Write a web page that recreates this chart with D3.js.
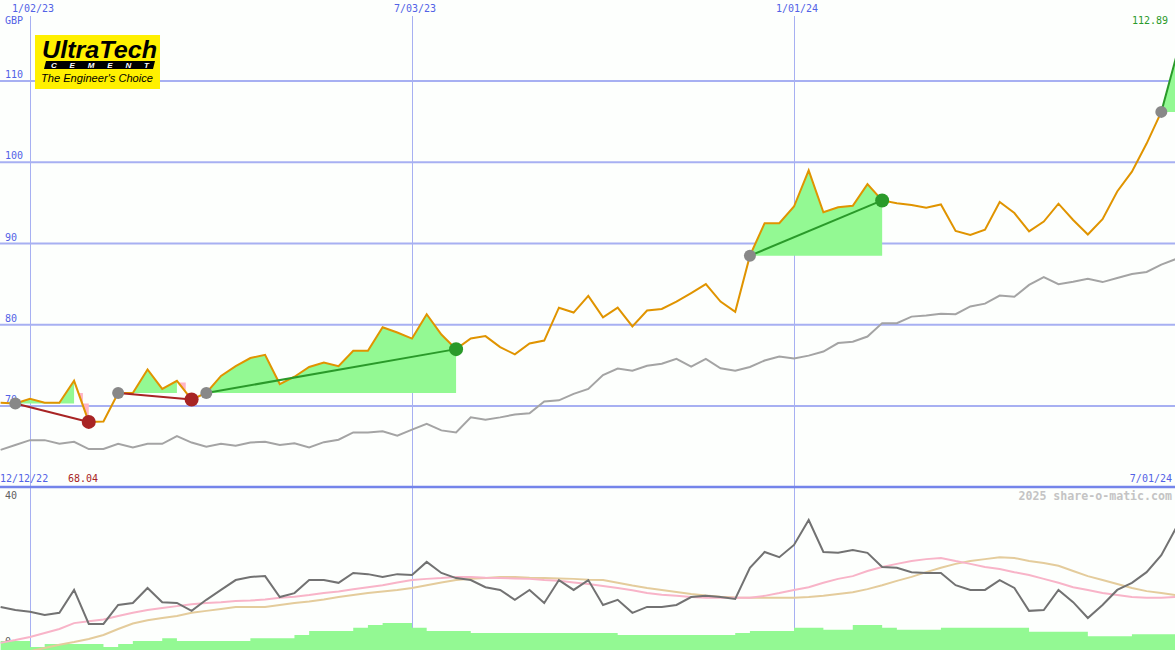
<!DOCTYPE html>
<html>
<head>
<meta charset="utf-8">
<script src="https://cdn.jsdelivr.net/npm/d3@7"></script>
<style>
	body { margin: 0; background: #fdfffd; }
	svg { display: block; }
	text { font-family: "DejaVu Sans Mono", monospace; font-size: 10px; }
</style>
</head>
<body>
<div id="chart"></div>
<script>
// weekly closes, first week 12/19/22
var firstWeek = new Date(2022, 11, 19);
var price = [ 70.4, 70.3, 70.9, 70.4, 70.4, 73.1, 68.04, 68.1, 71.6, 71.6,
	74.5, 72.1, 73.1, 70.8, 71.6, 73.7, 74.9, 75.9, 76.3, 72.7,
	73.6, 74.8, 75.35, 74.9, 76.8, 76.8, 79.7, 79.05, 78.3, 81.3,
	78.8, 77.0, 78.3, 78.6, 77.25, 76.35, 77.7, 78.05, 82.1, 81.5,
	83.55, 80.9, 82.1, 79.8, 81.75, 81.95, 82.85, 83.9, 85.0, 82.85,
	81.6, 88.5, 92.5, 92.5, 94.55, 99.0, 93.85, 94.45, 94.65, 97.3,
	95.3, 94.95, 94.75, 94.4, 94.8, 91.55, 91.05, 91.7, 95.1, 93.75,
	91.5, 92.7, 94.9, 92.9, 91.1, 93.0, 96.4, 98.85, 102.3, 106.2, 112.89 ];
// comparison index, plotted on the price scale
var index = [ 64.6, 65.2, 65.8, 65.8, 65.35, 65.6, 64.7, 64.7, 65.35, 64.9,
	65.35, 65.35, 66.3, 65.5, 65.0, 65.35, 65.1, 65.5, 65.6, 65.2,
	65.4, 64.9, 65.55, 65.85, 66.75, 66.75, 66.9, 66.35, 67.1, 67.8,
	67.0, 66.75, 68.6, 68.3, 68.6, 68.95, 69.1, 70.55, 70.7, 71.5,
	72.1, 73.8, 74.6, 74.35, 74.95, 75.2, 75.8, 74.85, 75.8, 74.65,
	74.35, 74.8, 75.6, 76.1, 75.85, 76.2, 76.7, 77.75, 77.9, 78.55,
	80.2, 80.2, 81.0, 81.15, 81.35, 81.3, 82.25, 82.6, 83.6, 83.45,
	84.9, 85.85, 85.0, 85.3, 85.65, 85.25, 85.75, 86.25, 86.5, 87.4, 88.1 ];
// lower panel
var volat = [ 10.4, 9.6, 9.2, 8.35, 8.9, 14.7, 6.1, 6.1, 10.9, 11.4,
	15.2, 11.6, 11.4, 9.4, 12.2, 14.7, 17.2, 18.0, 18.2, 12.9,
	13.9, 17.2, 17.2, 16.5, 19.0, 18.7, 18.0, 18.7, 18.5, 21.8,
	19.0, 17.7, 17.2, 15.4, 14.7, 12.2, 14.7, 11.4, 17.2, 14.7,
	17.2, 10.9, 12.2, 8.9, 10.4, 10.4, 10.9, 12.9, 13.2, 12.9,
	12.4, 20.3, 24.3, 23.0, 26.1, 32.4, 24.3, 24.1, 24.8, 24.1,
	20.5, 20.3, 19.2, 19.0, 19.0, 15.9, 14.7, 14.7, 17.2, 15.2,
	9.4, 9.6, 14.7, 11.6, 7.6, 10.9, 14.7, 16.5, 19.2, 23.5, 30.4 ];
var avgShort = [ 1.3, 2.0, 2.8, 3.8, 4.8, 6.3, 6.8, 7.2, 8.1, 8.9,
	9.6, 10.1, 10.6, 11.1, 11.4, 11.6, 11.9, 12.0, 12.3, 12.7,
	13.0, 13.4, 13.9, 14.3, 14.9, 15.4, 15.9, 16.6, 17.2, 17.5,
	17.7, 18.0, 18.0, 17.8, 17.7, 17.6, 17.5, 17.2, 17.0, 16.6,
	16.2, 15.7, 15.2, 14.6, 13.9, 13.5, 13.2, 12.9, 12.7, 12.7,
	12.7, 12.7, 13.2, 13.9, 14.7, 15.4, 16.5, 17.5, 18.2, 19.5,
	20.5, 21.3, 22.0, 22.5, 22.8, 22.0, 21.3, 20.5, 20.0, 19.2,
	18.5, 17.5, 16.5, 15.4, 14.7, 13.9, 13.4, 12.9, 12.7, 12.7, 12.9 ];
var avgLong = [ null, null, -0.8, 0, 0.8, 1.5, 2.3, 3.3, 4.8, 6.2,
	7.0, 7.6, 8.1, 8.9, 9.4, 9.9, 10.4, 10.4, 10.4, 10.9,
	11.4, 11.8, 12.3, 12.9, 13.4, 13.9, 14.3, 14.7, 15.2, 15.9,
	16.6, 17.2, 17.5, 17.7, 18.0, 18.0, 17.8, 17.7, 17.6, 17.5,
	17.3, 17.2, 16.5, 15.8, 15.2, 14.7, 14.2, 13.7, 13.3, 13.0,
	12.8, 12.7, 12.7, 12.7, 12.7, 12.9, 13.2, 13.7, 14.1, 14.9,
	15.9, 17.0, 18.0, 19.2, 20.3, 21.3, 22.0, 22.5, 23.0, 22.8,
	22.0, 21.5, 20.8, 19.5, 18.2, 17.2, 16.2, 15.2, 14.4, 13.9, 13.4 ];
var volume = [ 1.8, 1.8, 0.25, 1.0, 1.0, 1.0, 1.0, 0.25, 1.0, 1.8,
	1.8, 2.5, 1.8, 1.8, 1.8, 1.8, 1.8, 2.5, 2.5, 2.5,
	3.3, 4.3, 4.3, 4.3, 5.1, 5.8, 6.3, 6.3, 5.1, 4.3,
	4.3, 4.3, 3.8, 3.8, 3.8, 3.8, 3.8, 3.8, 3.8, 3.8,
	3.8, 3.8, 3.3, 3.3, 3.3, 3.3, 3.3, 3.3, 3.3, 3.3,
	3.8, 4.3, 4.3, 4.3, 5.1, 5.1, 4.6, 4.6, 5.8, 5.8,
	5.1, 4.6, 4.6, 4.6, 5.1, 5.1, 5.1, 5.1, 5.1, 5.1,
	4.1, 4.1, 4.1, 4.1, 3.0, 3.0, 3.0, 3.5, 3.5, 3.5, 3.5 ];
// trends as [start, end] indices into the arrays above
var upTrends = [ [14, 31], [51, 60], [79, 80] ];
var downTrends = [ [1, 6], [8, 13] ];

var priceTicks = [ 110, 100, 90, 80, 70 ];
var dateTicks = [ new Date(2023, 0, 2), new Date(2023, 6, 3), new Date(2024, 0, 1) ];
var lowTicks = [ 40, 0 ];
var startLabel = "12/12/22", endLabel = "7/01/24";
var lastPrice = "112.89", lowPrice = "68.04";

var W = 1175, H = 650;
var svg = d3.select("#chart").append("svg").attr("width", W).attr("height", H);
svg.append("rect").attr("width", W).attr("height", H).attr("fill", "#fdfffd");

var dates = price.map((d, i) => d3.timeWeek.offset(firstWeek, i));
var x = d3.scaleTime().domain([dateTicks[0], dateTicks[2]]).range([30, 794]);
var y = d3.scaleLinear().domain([70, 110]).range([406, 81]);
var y2 = d3.scaleLinear().domain([0, 40]).range([648, 490]);

var blue = "#5262e6", grid = "#a7b0f2";
var fmt = d3.timeFormat("%-m/%d/%y");

// grid
svg.append("g").selectAll("line").data(dateTicks).join("line")
	.attr("x1", d => Math.round(x(d)) + 0.5).attr("x2", d => Math.round(x(d)) + 0.5)
	.attr("y1", 16).attr("y2", H)
	.attr("stroke", grid).attr("stroke-width", 1);
svg.append("g").selectAll("line").data(priceTicks).join("line")
	.attr("x1", 0).attr("x2", W)
	.attr("y1", d => y(d)).attr("y2", d => y(d))
	.attr("stroke", grid).attr("stroke-width", 2);
svg.append("line").attr("x1", 0).attr("x2", W).attr("y1", 487).attr("y2", 487)
	.attr("stroke", "#7484ea").attr("stroke-width", 2.5);

// labels
svg.append("g").selectAll("text").data(dateTicks).join("text")
	.attr("x", d => x(d) + 3).attr("y", 12).attr("text-anchor", "middle")
	.attr("fill", blue).text(d => fmt(d));
svg.append("text").attr("x", 5).attr("y", 24).attr("fill", blue).text("GBP");
svg.append("g").selectAll("text").data(priceTicks).join("text")
	.attr("x", 5).attr("y", d => y(d) - 3).attr("fill", blue).text(d => d);
svg.append("text").attr("x", 0).attr("y", 482).attr("fill", blue).text(startLabel);
svg.append("text").attr("x", 1172).attr("y", 482).attr("text-anchor", "end").attr("fill", blue).text(endLabel);
svg.append("text").attr("x", 68).attr("y", 482).attr("fill", "#a82424").text(lowPrice);
svg.append("text").attr("x", 1168).attr("y", 24).attr("text-anchor", "end").attr("fill", "#2a9a2a").text(lastPrice);
svg.append("g").selectAll("text").data(lowTicks).join("text")
	.attr("x", 5).attr("y", d => d ? y2(d) + 9 : y2(d) - 3).attr("fill", "#606060").text(d => d);
svg.append("text").attr("x", 1172).attr("y", 500).attr("text-anchor", "end")
	.attr("fill", "#c4c4c4").attr("font-weight", "bold").style("font-size", "11.6px")
	.text("2025 share-o-matic.com");

// lower panel
var low = svg.append("g");
low.append("path").datum(volume)
	.attr("d", d3.area().curve(d3.curveStepAfter)
		.x((d, i) => x(dates[i])).y0(H).y1(d => y2(d)))
	.attr("fill", "#93f993");
var lowLine = (arr, col, w) => low.append("path").datum(arr)
	.attr("d", d3.line().defined(d => d !== null).x((d, i) => x(dates[i])).y(d => y2(d)))
	.attr("fill", "none").attr("stroke", col).attr("stroke-width", w);
lowLine(avgLong, "#e4cc9c", 2);
lowLine(avgShort, "#f8b4c8", 2);
lowLine(volat, "#727272", 2);

// trend fills
var main = svg.append("g");
var fillArea = (s, e) => {
	var base = price[s];
	var idx = d3.range(s, e + 1).filter(i => price[i] >= base);
	var last = idx[idx.length - 1];
	main.append("path").datum(d3.range(s, last + 1))
		.attr("d", d3.area().x(i => x(dates[i])).y0(y(base)).y1(i => y(Math.max(price[i], base))))
		.attr("fill", "#93f993");
	return last;
};
upTrends.forEach(t => fillArea(t[0], t[1]));
downTrends.forEach(t => {
	var s = t[0], e = t[1];
	var last = fillArea(s, e);
	var base = price[s];
	var top = Math.min(price[last], base + 1.3);
	var x0 = x(dates[last]), x1 = x(dates[e]);
	var lx = v => x0 + (x1 - x0) * (price[last] - v) / (price[last] - price[e]);
	var xm = x0 + (x1 - x0) * 0.6;
	var pts = [ [lx(top), y(top)], [xm, y(top)], [xm, y(base)], [x1, y(base)], [x1, y(price[e])] ];
	if (price[e] >= base) pts = [ [lx(top), y(top)], [x1, y(top)], [x1, y(price[e])] ];
	main.append("path").attr("d", d3.line()(pts) + "Z").attr("fill", "#ffb4c4");
});

// index and price lines
main.append("path").datum(index)
	.attr("d", d3.line().x((d, i) => x(dates[i])).y(d => y(d)))
	.attr("fill", "none").attr("stroke", "#a4a4a4").attr("stroke-width", 2);
main.append("path").datum(price.slice(0, price.length - 1))
	.attr("d", d3.line().x((d, i) => x(dates[i])).y(d => y(d)))
	.attr("fill", "none").attr("stroke", "#e09400").attr("stroke-width", 2);

var trendLine = (t, col) => main.append("line")
	.attr("x1", x(dates[t[0]])).attr("y1", y(price[t[0]]))
	.attr("x2", x(dates[t[1]])).attr("y2", y(price[t[1]]))
	.attr("stroke", col).attr("stroke-width", 2);
downTrends.forEach(t => trendLine(t, "#a82424"));
upTrends.forEach(t => trendLine(t, "#2a9a2a"));

var dot = (i, r, col) => main.append("circle")
	.attr("cx", x(dates[i])).attr("cy", y(price[i])).attr("r", r).attr("fill", col);
upTrends.concat(downTrends).forEach(t => dot(t[0], 6, "#888888"));
downTrends.forEach(t => dot(t[1], 7, "#a82424"));
upTrends.forEach(t => { if (t[1] < price.length - 1) dot(t[1], 7, "#2a9a2a"); });

// logo
var logo = svg.append("g").attr("transform", "translate(35,35)");
logo.append("rect").attr("width", 125).attr("height", 54).attr("fill", "#fff000");
logo.append("text").attr("x", 7).attr("y", 23).attr("textLength", 115).attr("lengthAdjust", "spacingAndGlyphs")
	.style("font-family", "Liberation Sans, Arial, sans-serif").style("font-size", "24px")
	.style("font-weight", "bold").style("font-style", "italic").attr("fill", "#000").text("UltraTech");
logo.append("path").attr("d", "M11,26 L120,26 L118,34 L9,34 Z").attr("fill", "#000");
logo.append("text").attr("x", 16).attr("y", 33).attr("textLength", 98).attr("lengthAdjust", "spacing")
	.style("font-family", "Liberation Sans, Arial, sans-serif").style("font-size", "8px")
	.style("font-weight", "bold").style("font-style", "italic").attr("fill", "#fff").text("CEMENT");
logo.append("text").attr("x", 6).attr("y", 47).attr("textLength", 112).attr("lengthAdjust", "spacingAndGlyphs")
	.style("font-family", "Liberation Sans, Arial, sans-serif").style("font-size", "11px")
	.style("font-style", "italic").attr("fill", "#000").text("The Engineer's Choice");
</script>
</body>
</html>
